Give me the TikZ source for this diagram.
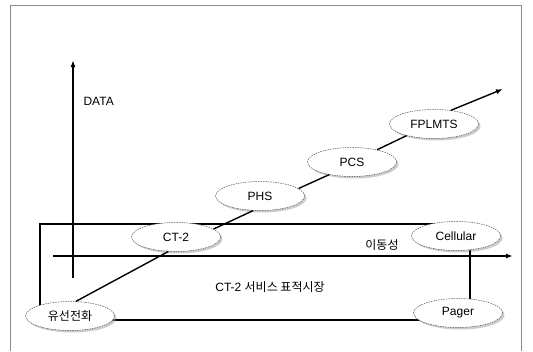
\documentclass[tikz,border=0pt]{standalone}
\usepackage{fontspec}
\setmainfont{Liberation Sans}
\newfontfamily\krfont{Noto Sans CJK KR}
\usetikzlibrary{positioning, arrows.meta, shapes.geometric, shadows}

\begin{document}
\begin{tikzpicture}[x=1pt, y=-1pt, >={Latex[length=7pt, width=5pt]},
  font=\fontsize{12}{14}\selectfont,
  service/.style={ellipse, draw=black!70, dash pattern=on 1.5pt off 1pt, line width=0.5pt,
    fill=white, minimum width=89pt, minimum height=29pt, inner sep=0pt,
    drop shadow={shadow xshift=2pt, shadow yshift=-2pt, fill=black!40}},
  link/.style={line width=1.4pt},
  axis/.style={line width=1.4pt, ->},
  market/.style={line width=1.8pt}]
  \useasboundingbox (0,0) rectangle (533,351);
  \draw[black!45, line width=0.5pt] (10,351) -- (10,5) -- (521,5) -- (521,351);
  % target market frame
  \draw[market] (40,224) rectangle (470,320);
  % axes
  \coordinate (yfoot) at (73,278);
  \coordinate (ytip) at (73,60);
  \coordinate (xfoot) at (53,256);
  \coordinate (xtip) at (513,256);
  \draw[axis] (yfoot) -- (ytip);
  \draw[axis] (xfoot) -- (xtip);
  \node[anchor=west] (data) at (80,101) {DATA};
  \node (mobility) at (382,245) {\krfont 이동성};
  \node (target) at (270,287) {CT-2 \krfont 서비스 표적시장};
  % services
  \node[service] (wire) at (70,316) {\krfont 유선전화};
  \node[service] (ct2) at (176,237) {CT-2};
  \node[service] (phs) at (260,196) {PHS};
  \node[service] (pcs) at (352,162) {PCS};
  \node[service] (fplmts) at (434,124) {FPLMTS};
  \node[service] (cellular) at (456,236) {Cellular};
  \node[service] (pager) at (458,313) {Pager};
  % evolution path
  \coordinate (future) at (503,89);
  \draw[link] (wire.68) -- (ct2.242);
  \draw[link] (ct2.12) -- (phs.245);
  \draw[link] (phs.11) -- (pcs.209);
  \draw[link] (pcs.26) -- (fplmts.203);
  \draw[link, ->] (fplmts.39) -- (future);
  \draw[market] (cellular.south -| 470,0) -- (pager.north -| 470,0);
\end{tikzpicture}
\end{document}
